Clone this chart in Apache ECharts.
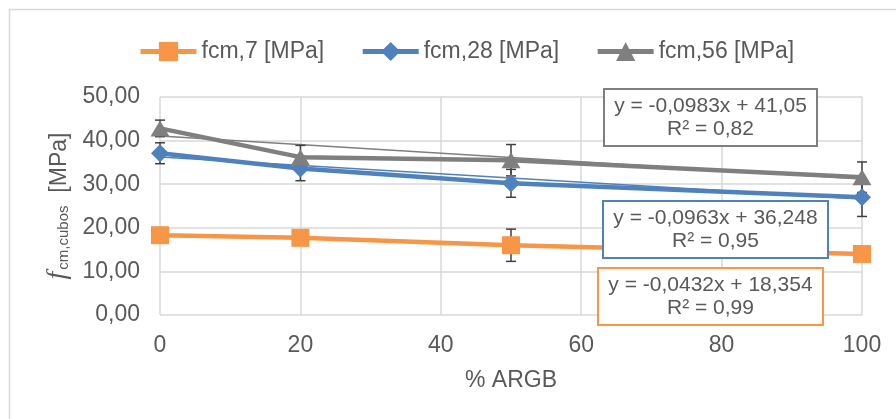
<!DOCTYPE html>
<html>
<head>
<meta charset="utf-8">
<script src="https://cdn.jsdelivr.net/npm/echarts@6/dist/echarts.min.js"></script>
<style>
  html, body { margin: 0; padding: 0; background: #ffffff; }
  #chart { width: 896px; height: 419px; }
</style>
</head>
<body>
<div id="chart"></div>
<script>
// Replacement level of ARGB (%)
const xValues = [0, 20, 50, 100];

// Mean cube compressive strength per age [MPa]
const fcm7 = [18.3, 17.7, 16.0, 14.0];
const fcm28 = [37.1, 33.6, 30.2, 27.0];
const fcm56 = [42.8, 36.2, 35.5, 31.6];

// Standard deviation (± error bar) [MPa]
const err7 = [1.0, 1.0, 3.7, 1.0];
const err28 = [2.4, 2.8, 3.2, 4.4];
const err56 = [1.9, 2.7, 3.6, 3.5];

const seriesNames = ['fcm,7 [MPa]', 'fcm,28 [MPa]', 'fcm,56 [MPa]'];

// Linear regression y = a·x + b and R² for each age
const trendSlope = [-0.0432, -0.0963, -0.0983];
const trendIntercept = [18.354, 36.248, 41.05];
const trendR2 = [0.99, 0.95, 0.82];

const colors = ['#F79646', '#4F81BD', '#7F7F7F'];
const textColor = '#595959';
const gridColor = '#D9D9D9';
const fontFamily = '"Liberation Sans", Arial, sans-serif';

const values = [fcm7, fcm28, fcm56];
const errors = [err7, err28, err56];
const symbols = ['rect', 'diamond', 'triangle'];
const symbolSizes = [18, 18, [19, 16]];

const decimal = v => String(v).replace('.', ',');
const equation = i => 'y = ' + decimal(trendSlope[i]) + 'x + ' + decimal(trendIntercept[i]);
const r2Text = i => 'R² = ' + decimal(trendR2[i].toFixed(2));

const series = [];

// thin regression lines
values.forEach((vals, i) => {
  const x0 = xValues[0], x1 = xValues[xValues.length - 1];
  series.push({
    name: 'trend-' + i,
    type: 'line',
    silent: true,
    symbol: 'none',
    z: 1,
    lineStyle: { color: colors[i], width: 1.5 },
    data: [[x0, trendSlope[i] * x0 + trendIntercept[i]], [x1, trendSlope[i] * x1 + trendIntercept[i]]]
  });
});

// error bars (drawn beneath the markers)
values.forEach((vals, i) => {
  series.push({
    name: 'err-' + i,
    type: 'custom',
    silent: true,
    z: 2,
    encode: { x: 0, y: [1, 2] },
    data: xValues.map((x, k) => [x, vals[k] - errors[i][k], vals[k] + errors[i][k]]),
    renderItem: (params, api) => {
      const lo = api.coord([api.value(0), api.value(1)]);
      const hi = api.coord([api.value(0), api.value(2)]);
      const hw = 5;
      const st = { stroke: '#404040', lineWidth: 1.5 };
      return {
        type: 'group',
        children: [
          { type: 'line', shape: { x1: lo[0], y1: lo[1], x2: hi[0], y2: hi[1] }, style: st },
          { type: 'line', shape: { x1: lo[0] - hw, y1: lo[1], x2: lo[0] + hw, y2: lo[1] }, style: st },
          { type: 'line', shape: { x1: hi[0] - hw, y1: hi[1], x2: hi[0] + hw, y2: hi[1] }, style: st }
        ]
      };
    }
  });
});

// measured means
values.forEach((vals, i) => {
  series.push({
    name: seriesNames[i],
    type: 'line',
    z: 3,
    symbol: symbols[i],
    symbolSize: symbolSizes[i],
    lineStyle: { color: colors[i], width: 4.5 },
    itemStyle: { color: colors[i] },
    data: xValues.map((x, k) => [x, vals[k]])
  });
});

// regression label boxes
function eqBox(i, left, top, width) {
  return [
    { type: 'rect', z: 100, shape: { x: left, y: top, width: width, height: 57 },
      style: { fill: '#ffffff', stroke: colors[i], lineWidth: 2 } },
    { type: 'text', z: 101, x: left + width / 2, y: top + 6,
      style: { text: equation(i) + '\n' + r2Text(i), fill: textColor,
               font: '21px ' + fontFamily, align: 'center', verticalAlign: 'top', lineHeight: 23 } }
  ];
}

const option = {
  animation: false,
  backgroundColor: '#ffffff',
  textStyle: { fontFamily: fontFamily, color: textColor },
  legend: {
    data: seriesNames,
    left: 133,
    top: 35,
    itemWidth: 56,
    itemHeight: 24,
    itemGap: 36,
    lineStyle: { width: 5 },
    textStyle: { fontSize: 23, color: textColor, fontFamily: fontFamily }
  },
  grid: { left: 160, right: 34, top: 97, bottom: 104, containLabel: false },
  xAxis: {
    type: 'value',
    min: 0, max: 100, interval: 20,
    name: '% ARGB',
    nameLocation: 'middle',
    nameGap: 54,
    nameTextStyle: { fontSize: 23, color: textColor, verticalAlign: 'top' },
    axisLine: { show: false },
    axisTick: { show: false },
    axisLabel: { fontSize: 23, color: textColor, margin: 19 },
    splitLine: { show: true, lineStyle: { color: gridColor, width: 1.5 } }
  },
  yAxis: {
    type: 'value',
    min: 0, max: 50, interval: 10,
    name: '{f|f}{sub|cm,cubos}{u|  [MPa]}',
    nameLocation: 'middle',
    nameRotate: 90,
    nameGap: 88,
    nameTextStyle: {
      rich: {
        f: { fontFamily: '"Liberation Serif", "Times New Roman", serif', fontStyle: 'italic', fontSize: 28, color: textColor, verticalAlign: 'bottom', lineHeight: 30 },
        sub: { fontSize: 15, color: textColor, verticalAlign: 'bottom', lineHeight: 26, padding: [6, 0, 0, 2] },
        u: { fontSize: 23, color: textColor, verticalAlign: 'bottom', lineHeight: 30 }
      }
    },
    axisLine: { show: false },
    axisTick: { show: false },
    axisLabel: { fontSize: 23, color: textColor, margin: 20, formatter: v => v.toFixed(2).replace('.', ',') },
    splitLine: { show: true, lineStyle: { color: gridColor, width: 1.5 } }
  },
  graphic: [
    { type: 'rect', z: -1, shape: { x: 9.5, y: 9.5, width: 1000, height: 1000 },
      style: { fill: 'none', stroke: gridColor, lineWidth: 1.5 } }
  ].concat(eqBox(2, 604, 89, 213), eqBox(1, 603, 201, 225), eqBox(0, 598, 268, 225)),
  series: series
};

const chart = echarts.init(document.getElementById('chart'), null, { renderer: 'canvas' });
chart.setOption(option);
</script>
</body>
</html>
